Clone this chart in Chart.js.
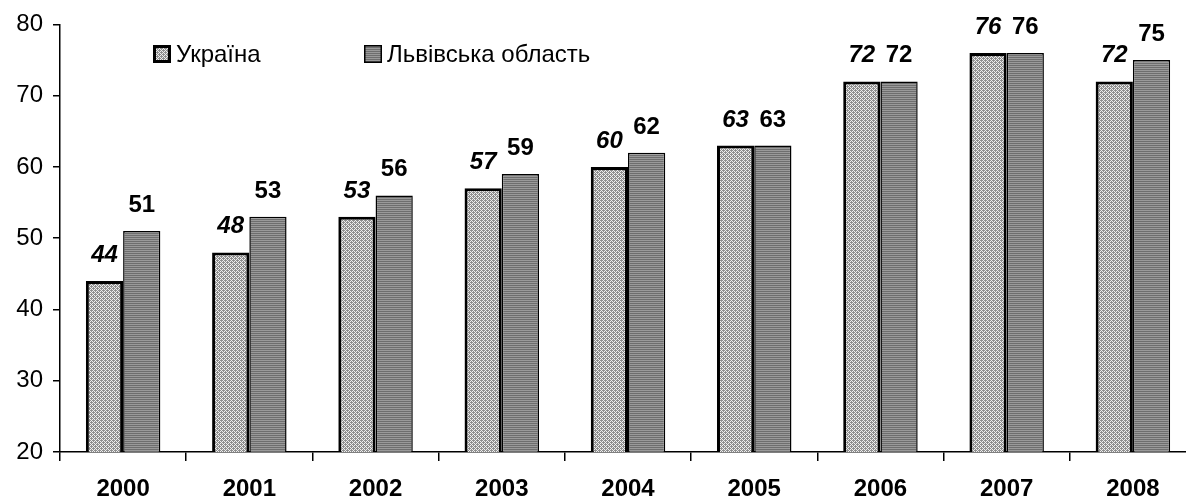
<!DOCTYPE html>
<html>
<head>
<meta charset="utf-8">
<script src="https://cdn.jsdelivr.net/npm/chart.js@4"></script>
<style>
  body { margin: 0; overflow: hidden; background: #fff; }
  #wrap { width: 1196px; height: 499px; }
</style>
</head>
<body>
<div id="wrap"><canvas id="chart"></canvas></div>
<script>
var years = ["2000", "2001", "2002", "2003", "2004", "2005", "2006", "2007", "2008"];
var ukraine = [44, 48, 53, 57, 60, 63, 72, 76, 72];
var lviv = [51, 53, 56, 59, 62, 63, 72, 76, 75];
var seriesNames = ["Україна", "Львівська область"];
var yTicks = [20, 30, 40, 50, 60, 70, 80];

var FONT = "'Liberation Sans', Arial, sans-serif";

// fill patterns like the old Excel hatch fills
function dotPattern() {
    var c = document.createElement("canvas");
    c.width = 4; c.height = 4;
    var g = c.getContext("2d");
    g.fillStyle = "#eeeeee";
    g.fillRect(0, 0, 4, 4);
    g.fillStyle = "#8e8e8e";
    [[0, 0], [2, 0], [1, 1], [3, 1], [0, 2], [2, 2], [1, 3], [3, 3], [1, 0], [3, 2]].forEach(function (p) {
        g.fillRect(p[0], p[1], 1, 1);
    });
    return g.createPattern(c, "repeat");
}
function stripePattern() {
    var c = document.createElement("canvas");
    c.width = 2; c.height = 2;
    var g = c.getContext("2d");
    g.fillStyle = "#9a9a9a";
    g.fillRect(0, 0, 2, 2);
    g.fillStyle = "#6e6e6e";
    g.fillRect(0, 1, 2, 1);
    return g.createPattern(c, "repeat");
}

var ctx = document.getElementById("chart").getContext("2d");
var fills = [dotPattern(), stripePattern()];

var valueLabels = {
    id: "valueLabels",
    afterDatasetsDraw: function (chart) {
        var c = chart.ctx;
        c.save();
        c.fillStyle = "#000";
        c.textAlign = "center";
        c.textBaseline = "alphabetic";
        chart.data.datasets.forEach(function (ds, di) {
            c.font = (di == 0 ? "italic bold " : "bold ") + "24px " + FONT;
            chart.getDatasetMeta(di).data.forEach(function (bar, i) {
                c.fillText(ds.data[i], bar.x, bar.y - 19);
            });
        });
        c.restore();
    }
};

var boxLegend = {
    id: "boxLegend",
    afterDraw: function (chart) {
        var c = chart.ctx;
        var xs = [153, 364];
        c.save();
        c.font = "24px " + FONT;
        c.textBaseline = "alphabetic";
        chart.data.datasets.forEach(function (ds, di) {
            var x = xs[di], y = 45;
            c.fillStyle = ds.backgroundColor;
            c.fillRect(x, y, 18, 18);
            c.lineWidth = di == 0 ? 3 : 1.5;
            c.strokeStyle = "#000";
            c.strokeRect(x + c.lineWidth / 2, y + c.lineWidth / 2, 18 - c.lineWidth, 18 - c.lineWidth);
            c.fillStyle = "#000";
            c.fillText(ds.label, x + 23, 62);
        });
        c.restore();
    }
};

var chart = new Chart(ctx, {
    type: "bar",
    data: {
        labels: years,
        datasets: [
            {
                label: seriesNames[0],
                data: ukraine,
                backgroundColor: fills[0],
                borderColor: "#000",
                borderWidth: 3,
                borderSkipped: false,
            },
            {
                label: seriesNames[1],
                data: lviv,
                backgroundColor: fills[1],
                borderColor: "#000",
                borderWidth: 1.5,
                borderSkipped: false,
            },
        ],
    },
    options: {
        responsive: true,
        maintainAspectRatio: false,
        animation: false,
        layout: { padding: { top: 16, right: 0, bottom: 0, left: 0 } },
        plugins: {
            legend: { display: false },
            tooltip: { enabled: false },
        },
        datasets: {
            bar: { categoryPercentage: 0.59, barPercentage: 1.0 },
        },
        scales: {
            x: {
                grid: {
                    display: true,
                    offset: true,
                    drawOnChartArea: false,
                    tickLength: 9,
                    color: "#000",
                    lineWidth: 1.5,
                },
                border: { display: true, color: "#000", width: 1.5 },
                ticks: {
                    color: "#000",
                    padding: 14,
                    font: { family: FONT, size: 24, weight: "bold" },
                },
                afterFit: function (axis) { axis.height = 47; },
            },
            y: {
                min: yTicks[0],
                max: yTicks[yTicks.length - 1],
                afterBuildTicks: function (axis) {
                    axis.ticks = yTicks.map(function (v) { return { value: v }; });
                },
                grid: {
                    display: true,
                    drawOnChartArea: false,
                    tickLength: 7,
                    color: "#000",
                    lineWidth: 1.5,
                },
                border: { display: true, color: "#000", width: 1.5 },
                ticks: {
                    color: "#000",
                    padding: 10,
                    font: { family: FONT, size: 24 },
                },
                afterFit: function (axis) { axis.width = 60; },
            },
        },
    },
    plugins: [valueLabels, boxLegend],
});
</script>
</body>
</html>
